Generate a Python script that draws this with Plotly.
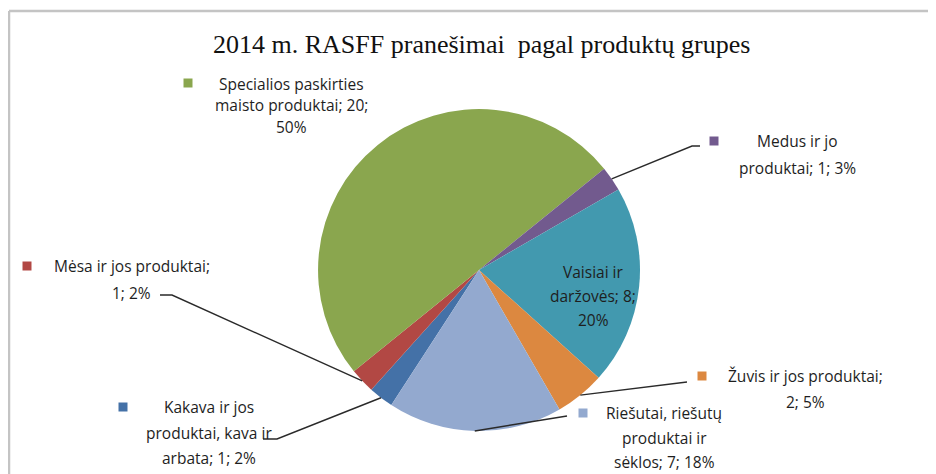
import math
import plotly.graph_objects as go

# ---------------- data ----------------
categories = [
    "Kakava ir jos produktai, kava ir arbata",
    "Mėsa ir jos produktai",
    "Specialios paskirties maisto produktai",
    "Medus ir jo produktai",
    "Vaisiai ir daržovės",
    "Žuvis ir jos produktai",
    "Riešutai, riešutų produktai ir sėklos",
]
values = [1, 1, 20, 1, 8, 2, 7]
percent_labels = ["2%", "2%", "50%", "3%", "20%", "5%", "18%"]
title_text = "2014 m. RASFF pranešimai  pagal produktų grupes"

# ---------------- style / layout ----------------
colors = ["#4471A7", "#B24844", "#8AA64E", "#725A8E", "#4299AF", "#DC8840", "#93A9CF"]
OFF = 8                              # page body offset in the browser
W, H = 936 - OFF, 474 - OFF          # figure size
CX, CY, R = 479, 270, 161            # pie centre / radius in window pixels
ROTATION = 213                       # start angle of first slice (clockwise from 12 o'clock)
LABEL_FONT = dict(family="Open Sans, sans-serif", size=15.5, color="#1e1e1e")

# word counts after which each label wraps
wraps = [[3, 6], [4], [2, 5], [3], [2, 4], [4], [2, 4]]
# label block placement: centre x, first line y, line step (window pixels)
label_pos = [(209, 407, 25.5), (132, 266, 27), (291, 84, 21.5), (797, 141, 27),
             (593, 272, 24), (805, 376, 26), (664, 413, 24.5)]
# legend-key squares (None = no key)
key_pos = [(123, 407), (27, 266), (188, 83), (714, 141), None, (702, 376), (583, 413)]
# leader-line elbow / end points (None = no leader)
leader_pts = [[(277, 439), (263, 439)], [(172, 295), (160, 295)], None,
              [(692, 146), (700, 146)], None, [(687, 382)], [(567, 416)]]


def px(x):
    return (x - OFF) / W


def py(y):
    return 1 - (y - OFF) / H


fig = go.Figure(go.Pie(
    labels=categories,
    values=values,
    sort=False,
    direction="clockwise",
    rotation=ROTATION,
    marker=dict(colors=colors, line=dict(width=0)),
    textinfo="none",
    hoverinfo="label+value+percent",
    showlegend=False,
    domain=dict(x=[px(CX - R), px(CX + R)], y=[py(CY + R), py(CY - R)]),
))

annotations = []
shapes = []

# chart frame (cropped at right / bottom)
shapes.append(dict(type="line", xref="paper", yref="paper", x0=px(9), x1=px(W + 40),
                   y0=py(11), y1=py(11), line=dict(color="#c4c4c4", width=2.5)))
shapes.append(dict(type="line", xref="paper", yref="paper", x0=px(9), x1=px(9),
                   y0=py(11), y1=py(H + 40), line=dict(color="#c4c4c4", width=2.5)))

annotations.append(dict(text=title_text, xref="paper", yref="paper", x=px(481), y=py(45),
                        xanchor="center", yanchor="middle", showarrow=False,
                        font=dict(family="Liberation Serif, Times New Roman, serif",
                                  size=26, color="#111111")))

total = sum(values)
cum = 0
for i, (cat, v) in enumerate(zip(categories, values)):
    mid = ROTATION + (cum + v / 2) / total * 360
    cum += v
    words = f"{cat}; {v}; {percent_labels[i]}".split(" ")
    cuts = [0] + wraps[i] + [len(words)]
    lines = [" ".join(words[a:b]) for a, b in zip(cuts[:-1], cuts[1:])]
    cx, y0, dy = label_pos[i]
    for k, line in enumerate(lines):
        annotations.append(dict(text=line, xref="paper", yref="paper", x=px(cx), y=py(y0 + k * dy),
                                xanchor="center", yanchor="middle", showarrow=False,
                                font=LABEL_FONT))
    if key_pos[i] is not None:
        kx, ky = key_pos[i]
        shapes.append(dict(type="rect", xref="paper", yref="paper",
                           x0=px(kx - 4.5), x1=px(kx + 4.5), y0=py(ky + 4.5), y1=py(ky - 4.5),
                           fillcolor=colors[i], line=dict(width=0)))
    if leader_pts[i] is not None:
        a = math.radians(mid)
        ex, ey = CX + R * math.sin(a), CY - R * math.cos(a)
        pts = [(ex, ey)] + leader_pts[i]
        path = "M " + " L ".join(f"{px(x)},{py(y)}" for x, y in pts)
        shapes.append(dict(type="path", xref="paper", yref="paper", path=path,
                           line=dict(color="#2a2a2a", width=1.4)))

fig.update_layout(
    width=W, height=H,
    margin=dict(l=0, r=0, t=0, b=0),
    paper_bgcolor="white", plot_bgcolor="white",
    annotations=annotations, shapes=shapes,
)

fig.write_html("out.html")
